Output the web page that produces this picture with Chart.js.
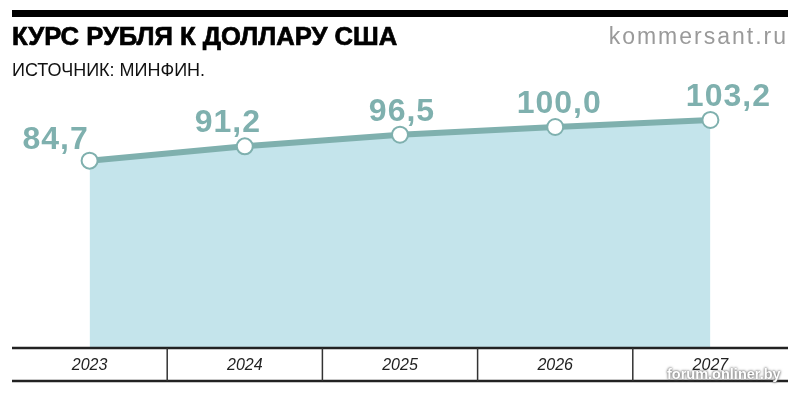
<!DOCTYPE html>
<html>
<head>
<meta charset="utf-8">
<script src="https://cdn.jsdelivr.net/npm/chart.js@4"></script>
<style>
  body { margin: 0; background: #fff; }
  #wrap { position: relative; width: 800px; height: 395px; overflow: hidden; }
  #chart { position: absolute; left: 0; top: 0; }
  .bar { position: absolute; left: 12px; top: 10px; width: 776px; height: 7px; background: #000; }
  .title { position: absolute; left: 12px; top: 22px; font: bold 25.6px "Liberation Sans", Arial, sans-serif; color: #000; -webkit-text-stroke: 0.7px #000; white-space: nowrap; }
  .sub { position: absolute; left: 12px; top: 60px; font: 18px "Liberation Sans", Arial, sans-serif; color: #111; white-space: nowrap; }
  .brand { position: absolute; right: 12px; top: 23px; font: 23px "Liberation Sans", Arial, sans-serif; color: #9a9a9a; letter-spacing: 2px; white-space: nowrap; }
  .wm { position: absolute; left: 667px; top: 366px; font: bold 14.5px "Liberation Sans", Arial, sans-serif; color: #fff; text-shadow: 0 0 3px #666, 0 0 2px #777; white-space: nowrap; }
</style>
</head>
<body>
<div id="wrap">
  <canvas id="chart" width="800" height="395"></canvas>
  <div class="bar"></div>
  <div class="title">КУРС РУБЛЯ К ДОЛЛАРУ США</div>
  <div class="sub">ИСТОЧНИК: МИНФИН.</div>
  <div class="brand">kommersant.ru</div>
  <div class="wm">forum.onliner.by</div>
</div>
<script>
const years = ['2023', '2024', '2025', '2026', '2027'];
const rates = [84.7, 91.2, 96.5, 100.0, 103.2];

const lineColor = '#7fb0ae';
const fillColor = '#c4e4eb';

// подписи значений над точками
const valueLabels = {
  id: 'valueLabels',
  afterDatasetsDraw(chart) {
    const ctx = chart.ctx;
    const meta = chart.getDatasetMeta(0);
    const shift = [-34, -17, 2, 4, 18];
    ctx.save();
    ctx.font = 'bold 32px "Liberation Sans", Arial, sans-serif';
    ctx.letterSpacing = '1px';
    ctx.fillStyle = lineColor;
    ctx.textAlign = 'center';
    ctx.textBaseline = 'alphabetic';
    meta.data.forEach((pt, i) => {
      const txt = rates[i].toFixed(1).replace('.', ',');
      const dy = i === 0 ? 12 : 14;
      ctx.fillText(txt, pt.x + shift[i], pt.y - dy);
    });
    ctx.restore();
  }
};

// таблица с годами под графиком
const yearTable = {
  id: 'yearTable',
  afterDraw(chart) {
    const ctx = chart.ctx;
    const x = chart.scales.x;
    const top = chart.chartArea.bottom + 1;
    const bottom = 381;
    ctx.save();
    ctx.strokeStyle = '#222';
    ctx.lineWidth = 2.5;
    ctx.beginPath();
    ctx.moveTo(12, top); ctx.lineTo(788, top);
    ctx.moveTo(12, bottom); ctx.lineTo(788, bottom);
    ctx.stroke();
    ctx.lineWidth = 1.5;
    ctx.strokeStyle = '#333';
    ctx.beginPath();
    for (let i = 0; i < years.length - 1; i++) {
      const bx = (x.getPixelForValue(i) + x.getPixelForValue(i + 1)) / 2;
      ctx.moveTo(bx, top); ctx.lineTo(bx, bottom);
    }
    ctx.stroke();
    ctx.font = 'italic 16px "Liberation Sans", Arial, sans-serif';
    ctx.fillStyle = '#222';
    ctx.textAlign = 'center';
    ctx.textBaseline = 'middle';
    years.forEach((y, i) => ctx.fillText(y, x.getPixelForValue(i), (top + bottom) / 2 + 1));
    ctx.restore();
  }
};

new Chart(document.getElementById('chart'), {
  type: 'line',
  data: {
    labels: years,
    datasets: [{
      data: rates,
      borderColor: lineColor,
      borderWidth: 6,
      backgroundColor: fillColor,
      fill: 'origin',
      tension: 0,
      pointRadius: 8,
      pointHoverRadius: 8,
      pointBackgroundColor: '#fff',
      pointBorderColor: lineColor,
      pointBorderWidth: 2
    }]
  },
  options: {
    responsive: false,
    animation: false,
    layout: { padding: { left: 12, right: 12, top: 17, bottom: 48 } },
    plugins: { legend: { display: false }, tooltip: { enabled: false } },
    scales: {
      x: { display: false, offset: true },
      y: { display: false, min: 0, max: 150 }
    }
  },
  plugins: [valueLabels, yearTable]
});
</script>
</body>
</html>
